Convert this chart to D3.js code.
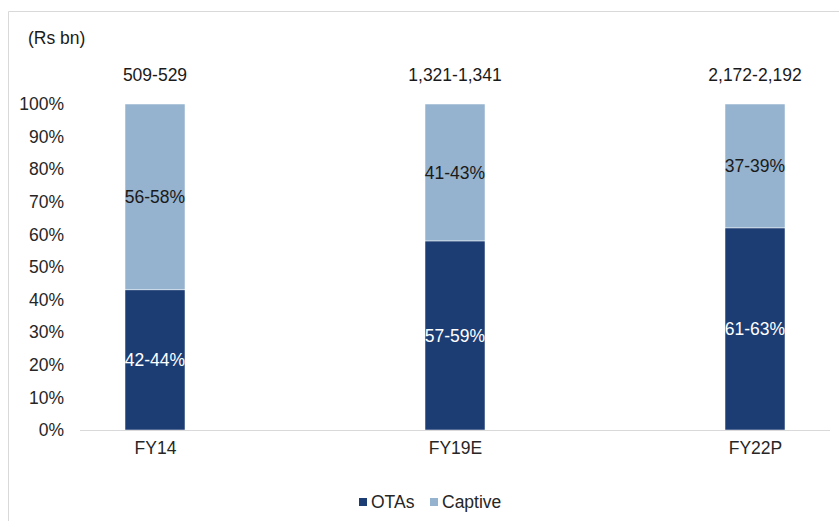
<!DOCTYPE html>
<html>
<head>
<meta charset="utf-8">
<script src="https://cdn.jsdelivr.net/npm/d3@7"></script>
<style>
  html, body { margin: 0; padding: 0; background: #fff; }
  svg { display: block; font-family: Arial, "Liberation Sans", sans-serif; }
</style>
</head>
<body>
<svg id="chart" width="839" height="521"></svg>
<script>
// Market split by channel (share of total, midpoint of each range)
const categories = ["FY14", "FY19E", "FY22P"];
const otasShare = [43, 58, 62];
const captiveShare = [57, 42, 38];
const otasLabels = ["42-44%", "57-59%", "61-63%"];
const captiveLabels = ["56-58%", "41-43%", "37-39%"];
const totalLabels = ["509-529", "1,321-1,341", "2,172-2,192"];
const yTicks = [0, 10, 20, 30, 40, 50, 60, 70, 80, 90, 100];
const seriesNames = ["OTAs", "Captive"];
const colors = { OTAs: "#1c3d74", Captive: "#95b3cf" };

const FS = 17.5;
const svg = d3.select("#chart");

// outer frame
svg.append("path")
  .attr("d", "M8.5,521 V11.5 H839")
  .attr("fill", "none")
  .attr("stroke", "#d9d9d9")
  .attr("stroke-width", 1);

const y = d3.scaleLinear().domain([0, 100]).range([430, 104]);
const x = d3.scalePoint().domain(categories).range([155, 755]);
const barW = 60;

const rows = categories.map((c, i) => ({
  cat: c, OTAs: otasShare[i], Captive: captiveShare[i],
  otaLabel: otasLabels[i], capLabel: captiveLabels[i], total: totalLabels[i]
}));
const stacked = d3.stack().keys(seriesNames)(rows);

// bars
svg.append("g").selectAll("g")
  .data(stacked)
  .join("g")
  .attr("fill", d => colors[d.key])
  .selectAll("rect")
  .data(d => d)
  .join("rect")
  .attr("x", d => x(d.data.cat) - barW / 2)
  .attr("width", barW)
  .attr("y", d => y(d[1]))
  .attr("height", d => y(d[0]) - y(d[1]))
  .attr("stroke", "#ffffff")
  .attr("stroke-width", 0.5);

// category axis line
svg.append("line")
  .attr("x1", 80).attr("x2", 830)
  .attr("y1", y(0) + 0.5).attr("y2", y(0) + 0.5)
  .attr("stroke", "#d9d9d9").attr("stroke-width", 1);

// y tick labels
const yAxis = d3.axisLeft(y).tickValues(yTicks).tickFormat(d => d + "%").tickSize(0).tickPadding(0);
const gy = svg.append("g").attr("transform", "translate(64,0)").call(yAxis);
gy.select(".domain").remove();
gy.selectAll("text").attr("font-size", FS).attr("fill", "#262626")
  .attr("font-family", "Arial, 'Liberation Sans', sans-serif");

// x tick labels
const xAxis = d3.axisBottom(x).tickSize(0).tickPadding(0);
const gx = svg.append("g").attr("transform", `translate(0,${y(0) + 12})`).call(xAxis);
gx.select(".domain").remove();
gx.selectAll("text").attr("font-size", FS).attr("fill", "#262626")
  .attr("font-family", "Arial, 'Liberation Sans', sans-serif");

// segment labels
const seg = svg.append("g").attr("font-size", FS).attr("text-anchor", "middle");
seg.selectAll("text.ota")
  .data(stacked[0])
  .join("text")
  .attr("class", "ota")
  .attr("x", d => x(d.data.cat))
  .attr("y", d => (y(d[0]) + y(d[1])) / 2)
  .attr("dy", "0.35em")
  .attr("fill", "#ffffff")
  .text(d => d.data.otaLabel);
seg.selectAll("text.cap")
  .data(stacked[1])
  .join("text")
  .attr("class", "cap")
  .attr("x", d => x(d.data.cat))
  .attr("y", d => (y(d[0]) + y(d[1])) / 2)
  .attr("dy", "0.35em")
  .attr("fill", "#1a1a1a")
  .text(d => d.data.capLabel);

// totals above bars
svg.append("g").attr("font-size", FS).attr("text-anchor", "middle").attr("fill", "#1a1a1a")
  .selectAll("text")
  .data(rows)
  .join("text")
  .attr("x", d => x(d.cat))
  .attr("y", 75)
  .attr("dy", "0.35em")
  .text(d => d.total);

// unit label
svg.append("text")
  .attr("x", 28).attr("y", 38).attr("dy", "0.35em")
  .attr("font-size", FS).attr("fill", "#1a1a1a")
  .text("(Rs bn)");

// legend
const legend = svg.append("g").attr("font-size", FS).attr("fill", "#262626");
const legendX = [359, 430];
seriesNames.forEach((s, i) => {
  legend.append("rect")
    .attr("x", legendX[i]).attr("y", 498)
    .attr("width", 8).attr("height", 8)
    .attr("fill", colors[s]);
  legend.append("text")
    .attr("x", legendX[i] + 12).attr("y", 502).attr("dy", "0.35em")
    .text(s);
});
</script>
</body>
</html>
